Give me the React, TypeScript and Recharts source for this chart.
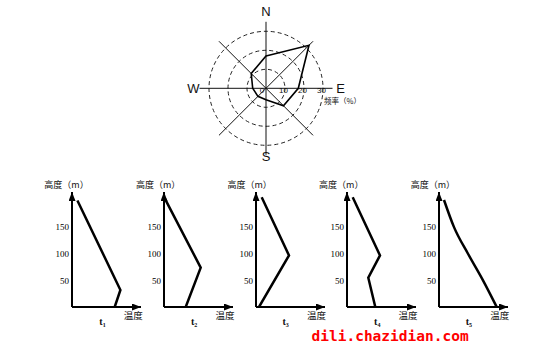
import React from 'react';
import {
  RadarChart,
  Radar,
  PolarGrid,
  PolarAngleAxis,
  PolarRadiusAxis,
  LineChart,
  Line,
  XAxis,
  YAxis,
} from 'recharts';

// ---- wind rose data ----
const directions = ['N', 'NE', 'E', 'SE', 'S', 'SW', 'W', 'NW'];
const windFrequency = [17, 32, 17, 13, 6, 6, 7, 11];
const compassLabels = ['N', 'E', 'S', 'W'];
const frequencyTicks = [0, 10, 20, 30];
const frequencyLabel = '频率（%）';

// ---- temperature profiles (temperature in arbitrary units, height in m) ----
const heightTicks = [50, 100, 150];
const profileSubscripts = ['1', '2', '3', '4', '5'];
const heightLabel = '高度（m）';
const tempLabel = '温度';

const t1Temp = [5.4, 48.4, 42.7];
const t1Height = [200, 32, 0];
const t2Temp = [1, 36.7, 21.7];
const t2Height = [203, 74, 0];
const t3Temp = [5.7, 33, 3];
const t3Height = [206, 97, 0];
const t4Temp = [5.7, 33, 21.3, 28.3];
const t4Height = [206, 97, 55, 0];
const t5Temp = [5, 15, 29, 44, 57.7];
const t5Height = [201, 150, 100, 50, 0];

const watermark = 'dili.chazidian.com';

const windData = directions.map((d, i) => ({ dir: d, freq: windFrequency[i] }));
const toRows = (ts: number[], hs: number[]) => ts.map((t, i) => ({ t, h: hs[i] }));
const profiles = [
  { rows: toRows(t1Temp, t1Height), curved: false },
  { rows: toRows(t2Temp, t2Height), curved: false },
  { rows: toRows(t3Temp, t3Height), curved: false },
  { rows: toRows(t4Temp, t4Height), curved: false },
  { rows: toRows(t5Temp, t5Height), curved: true },
];

const compassNudge: Record<string, number> = { N: 2, E: 0, S: -6, W: -2 };

const CompassTick = (props: any) => {
  const { x, y, payload } = props;
  const label = payload && payload.value;
  if (!compassLabels.includes(label)) return null;
  const ang = ((payload.coordinate || 0) * Math.PI) / 180;
  const n = compassNudge[label] || 0;
  const px = x + Math.cos(ang) * n;
  const py = y - Math.sin(ang) * n;
  return (
    <text
      x={px}
      y={py}
      textAnchor="middle"
      dominantBaseline="central"
      fontSize={13}
      fontFamily="Liberation Sans, Arial, sans-serif"
      fill="#111"
    >
      {label}
    </text>
  );
};

const FreqTick = (props: any) => {
  const { x, y, payload } = props;
  const v = payload && payload.value;
  return (
    <text
      x={x - (v === 0 ? 4 : 1.5)}
      y={y + 2.5}
      textAnchor="middle"
      dominantBaseline="central"
      fontSize={8}
      fontFamily="Liberation Sans, Arial, sans-serif"
      fill="#111"
    >
      {v}
    </text>
  );
};

const AXIS0 = 72.3;
const STEP = 91.6;

const Profile = ({ rows, curved, left }: { rows: any[]; curved: boolean; left: number }) => (
  <div style={{ position: 'absolute', left, top: 181.7 }}>
    <LineChart width={107} height={130} data={rows} margin={{ top: 10, right: 8, bottom: 4, left: 0 }}>
      <XAxis
        type="number"
        dataKey="t"
        domain={[0, 69]}
        allowDataOverflow
        height={1}
        tick={false}
        tickLine={false}
        axisLine={{ stroke: '#000', strokeWidth: 2, markerEnd: 'url(#arrowHead)' }}
      />
      <YAxis
        type="number"
        domain={[0, 216]}
        allowDataOverflow
        ticks={heightTicks}
        width={30}
        tickSize={0}
        tickMargin={3}
        tickLine={false}
        tick={{ fontSize: 9, fill: '#000', fontFamily: 'Liberation Serif, Times New Roman, serif' }}
        axisLine={{ stroke: '#000', strokeWidth: 2, markerStart: 'url(#arrowHead)' }}
      />
      <Line
        type={curved ? 'monotone' : 'linear'}
        dataKey="h"
        stroke="#000"
        strokeWidth={2.5}
        dot={false}
        activeDot={false}
        isAnimationActive={false}
      />
    </LineChart>
  </div>
);

export default function App() {
  return (
    <div style={{ position: 'absolute', left: 0, top: 0, width: 560, height: 347, background: '#fff', overflow: 'hidden' }}>
      <svg width={0} height={0} style={{ position: 'absolute' }}>
        <defs>
          <marker
            id="arrowHead"
            markerUnits="userSpaceOnUse"
            markerWidth={9}
            markerHeight={7}
            refX={9}
            refY={3.5}
            orient="auto-start-reverse"
          >
            <path d="M0,0 L9,3.5 L0,7 z" fill="#000" />
          </marker>
        </defs>
      </svg>

      <div style={{ position: 'absolute', left: 176, top: 3 }}>
        <RadarChart
          width={180}
          height={170}
          data={windData}
          cx={90}
          cy={85.3}
          outerRadius={66.5}
          margin={{ top: 0, right: 0, bottom: 0, left: 0 }}
        >
          <PolarGrid gridType="circle" radialLines={false} stroke="#222" strokeDasharray="4 3" />
          <PolarGrid gridType="circle" polarRadius={[0]} stroke="#111" />
          <PolarAngleAxis dataKey="dir" tick={CompassTick} axisLine={false} tickLine={false} />
          <PolarRadiusAxis
            angle={0}
            domain={[0, 35]}
            ticks={frequencyTicks}
            allowDataOverflow
            axisLine={false}
            tickLine={false}
            tick={FreqTick}
          />
          <Radar
            dataKey="freq"
            stroke="#000"
            strokeWidth={1.6}
            fill="none"
            fillOpacity={0}
            dot={false}
            isAnimationActive={false}
          />
        </RadarChart>
      </div>

      {profiles.map((p, i) => (
        <Profile key={i} rows={p.rows} curved={p.curved} left={AXIS0 + i * STEP - 30} />
      ))}

      <svg width={560} height={347} style={{ position: 'absolute', left: 0, top: 0, pointerEvents: 'none' }}>
        <text x={324} y={103.5} fontSize={7.5} fontFamily="Noto Sans CJK SC, sans-serif" fill="#111">
          {frequencyLabel}
        </text>
        {profileSubscripts.map((s, i) => {
          const ax = AXIS0 + i * STEP;
          return (
            <g key={i}>
              <text x={ax - 28} y={188} fontSize={9} fontFamily="Noto Sans CJK SC, sans-serif" fill="#111">
                {heightLabel}
              </text>
              <text x={ax + 61} y={319} fontSize={9.5} textAnchor="middle" fontFamily="Noto Sans CJK SC, sans-serif" fill="#111">
                {tempLabel}
              </text>
              <text x={ax + 27} y={325} fontSize={10} fontWeight="bold" fontFamily="Liberation Serif, serif" fill="#111">
                t
                <tspan fontSize={6} dy={1.5}>
                  {s}
                </tspan>
              </text>
            </g>
          );
        })}
        <text
          x={311.5}
          y={341}
          fontSize={14.5}
          fontWeight="bold"
          fontFamily="DejaVu Sans Mono, monospace"
          fill="#ff0000"
        >
          {watermark}
        </text>
      </svg>
    </div>
  );
}
